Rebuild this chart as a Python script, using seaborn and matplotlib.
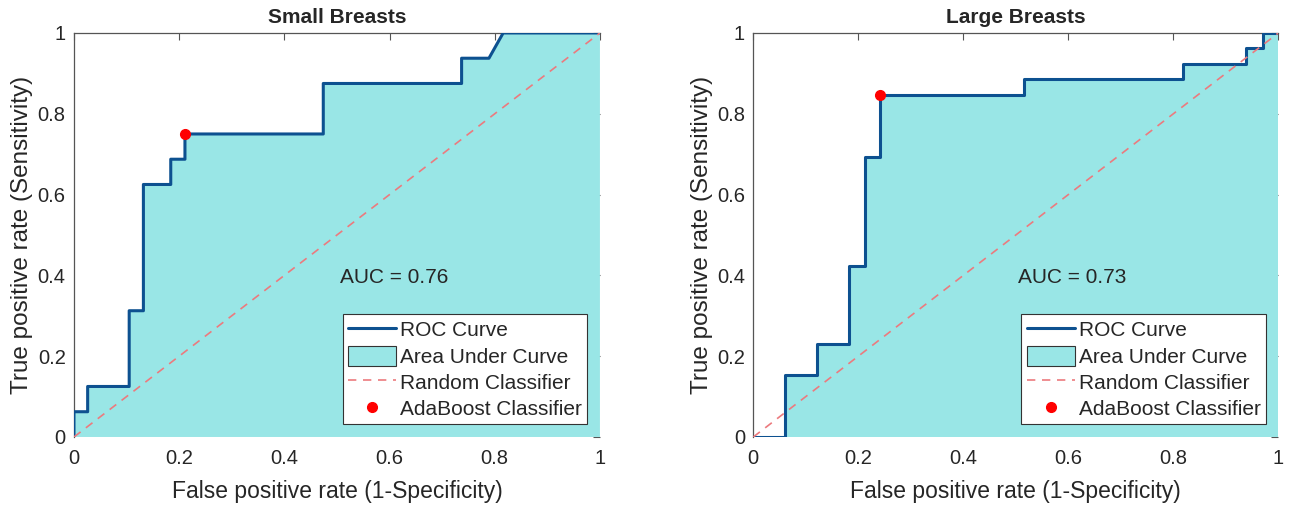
import numpy as np
import seaborn as sns
import matplotlib.pyplot as plt
from matplotlib.patches import Patch
from matplotlib.lines import Line2D

# ROC curve vertices
small_fpr = [0, 0, 0.026, 0.026, 0.105, 0.105, 0.132, 0.132, 0.184, 0.184,
             0.211, 0.211, 0.474, 0.474, 0.737, 0.737, 0.789, 0.816, 1.0]
small_tpr = [0, 0.0625, 0.0625, 0.125, 0.125, 0.3125, 0.3125, 0.625, 0.625, 0.6875,
             0.6875, 0.75, 0.75, 0.875, 0.875, 0.9375, 0.9375, 1.0, 1.0]
small_op = (0.211, 0.75)
small_auc = 0.76

large_fpr = [0, 0.061, 0.061, 0.121, 0.121, 0.182, 0.182, 0.212, 0.212, 0.242,
             0.242, 0.515, 0.515, 0.818, 0.818, 0.939, 0.939, 0.970, 0.970, 1.0]
large_tpr = [0, 0, 0.154, 0.154, 0.231, 0.231, 0.423, 0.423, 0.692, 0.692,
             0.846, 0.846, 0.885, 0.885, 0.923, 0.923, 0.962, 0.962, 1.0, 1.0]
large_op = (0.242, 0.846)
large_auc = 0.73

titles = ["Small Breasts", "Large Breasts"]
tick_vals = [0, 0.2, 0.4, 0.6, 0.8, 1]
tick_labels = ["0", "0.2", "0.4", "0.6", "0.8", "1"]

sns.set_theme(style="white")
plt.rcParams['font.family'] = ['Liberation Sans', 'DejaVu Sans']

fill_col = "#99e6e6"
line_col = "#0d5190"
rand_col = "#ec7a7e"
fs = 14.5

fig = plt.figure(figsize=(12.91, 5.05), dpi=100)
ax_pos = [[0.0573, 0.1347, 0.4074, 0.80], [0.5835, 0.1347, 0.4067, 0.80]]

panels = [(small_fpr, small_tpr, small_op, small_auc),
          (large_fpr, large_tpr, large_op, large_auc)]

for pos, title, (fpr, tpr, op, auc) in zip(ax_pos, titles, panels):
    ax = fig.add_axes(pos)
    ax.fill_between(fpr, tpr, 0, color=fill_col, edgecolor="none", zorder=3)
    sns.lineplot(x=fpr, y=tpr, sort=False, estimator=None, color=line_col,
                 lw=2.2, ax=ax, zorder=4)
    sns.lineplot(x=[0, 1], y=[0, 1], color=rand_col, lw=1.2, ax=ax, zorder=5,
                 dashes=False, linestyle=(0, (5, 4)))
    ax.plot([op[0]], [op[1]], 'o', color="#ff0000", ms=7, zorder=6)
    ax.text(0.505, 0.394, f"AUC = {auc:.2f}", fontsize=15, va="center", ha="left", zorder=7)

    ax.set_xlim(0, 1)
    ax.set_ylim(0, 1)
    ax.set_xticks(tick_vals)
    ax.set_xticklabels(tick_labels)
    ax.set_yticks(tick_vals)
    ax.set_yticklabels(tick_labels)
    ax.tick_params(direction="in", length=5, width=0.8, color="#555555",
                   top=True, right=True, labelsize=fs, labelcolor="#262626")
    ax.tick_params(axis="x", pad=9)
    ax.tick_params(axis="y", pad=6)
    for s in ax.spines.values():
        s.set_color("#555555")
        s.set_linewidth(0.9)
    ax.spines["right"].set_visible(False)
    ax.spines["bottom"].set_visible(False)
    ax.set_xlabel("False positive rate (1-Specificity)", fontsize=16.5, color="#262626", labelpad=8)
    ax.set_ylabel("True positive rate (Sensitivity)", fontsize=17.5, color="#262626", labelpad=3)
    ax.set_title(title, fontsize=15, fontweight="bold", pad=7)

    handles = [
        Line2D([], [], color=line_col, lw=2.2),
        Patch(facecolor=fill_col, edgecolor="#333333", lw=0.8),
        Line2D([], [], color=rand_col, lw=1.2, linestyle=(0, (5, 4))),
        Line2D([], [], color="#ff0000", marker="o", ms=7, lw=0),
    ]
    labels = ["ROC Curve", "Area Under Curve", "Random Classifier", "AdaBoost Classifier"]
    leg = ax.legend(handles, labels, loc="lower right", fontsize=15, frameon=True,
                    fancybox=False, framealpha=1, edgecolor="#333333",
                    handlelength=2.3, handleheight=1.1, handletextpad=0.2,
                    labelspacing=0.25, borderpad=0.25, borderaxespad=0.6)
    leg.get_frame().set_linewidth(0.8)
    leg.set_zorder(8)

fig.savefig("out.png", dpi=100)
